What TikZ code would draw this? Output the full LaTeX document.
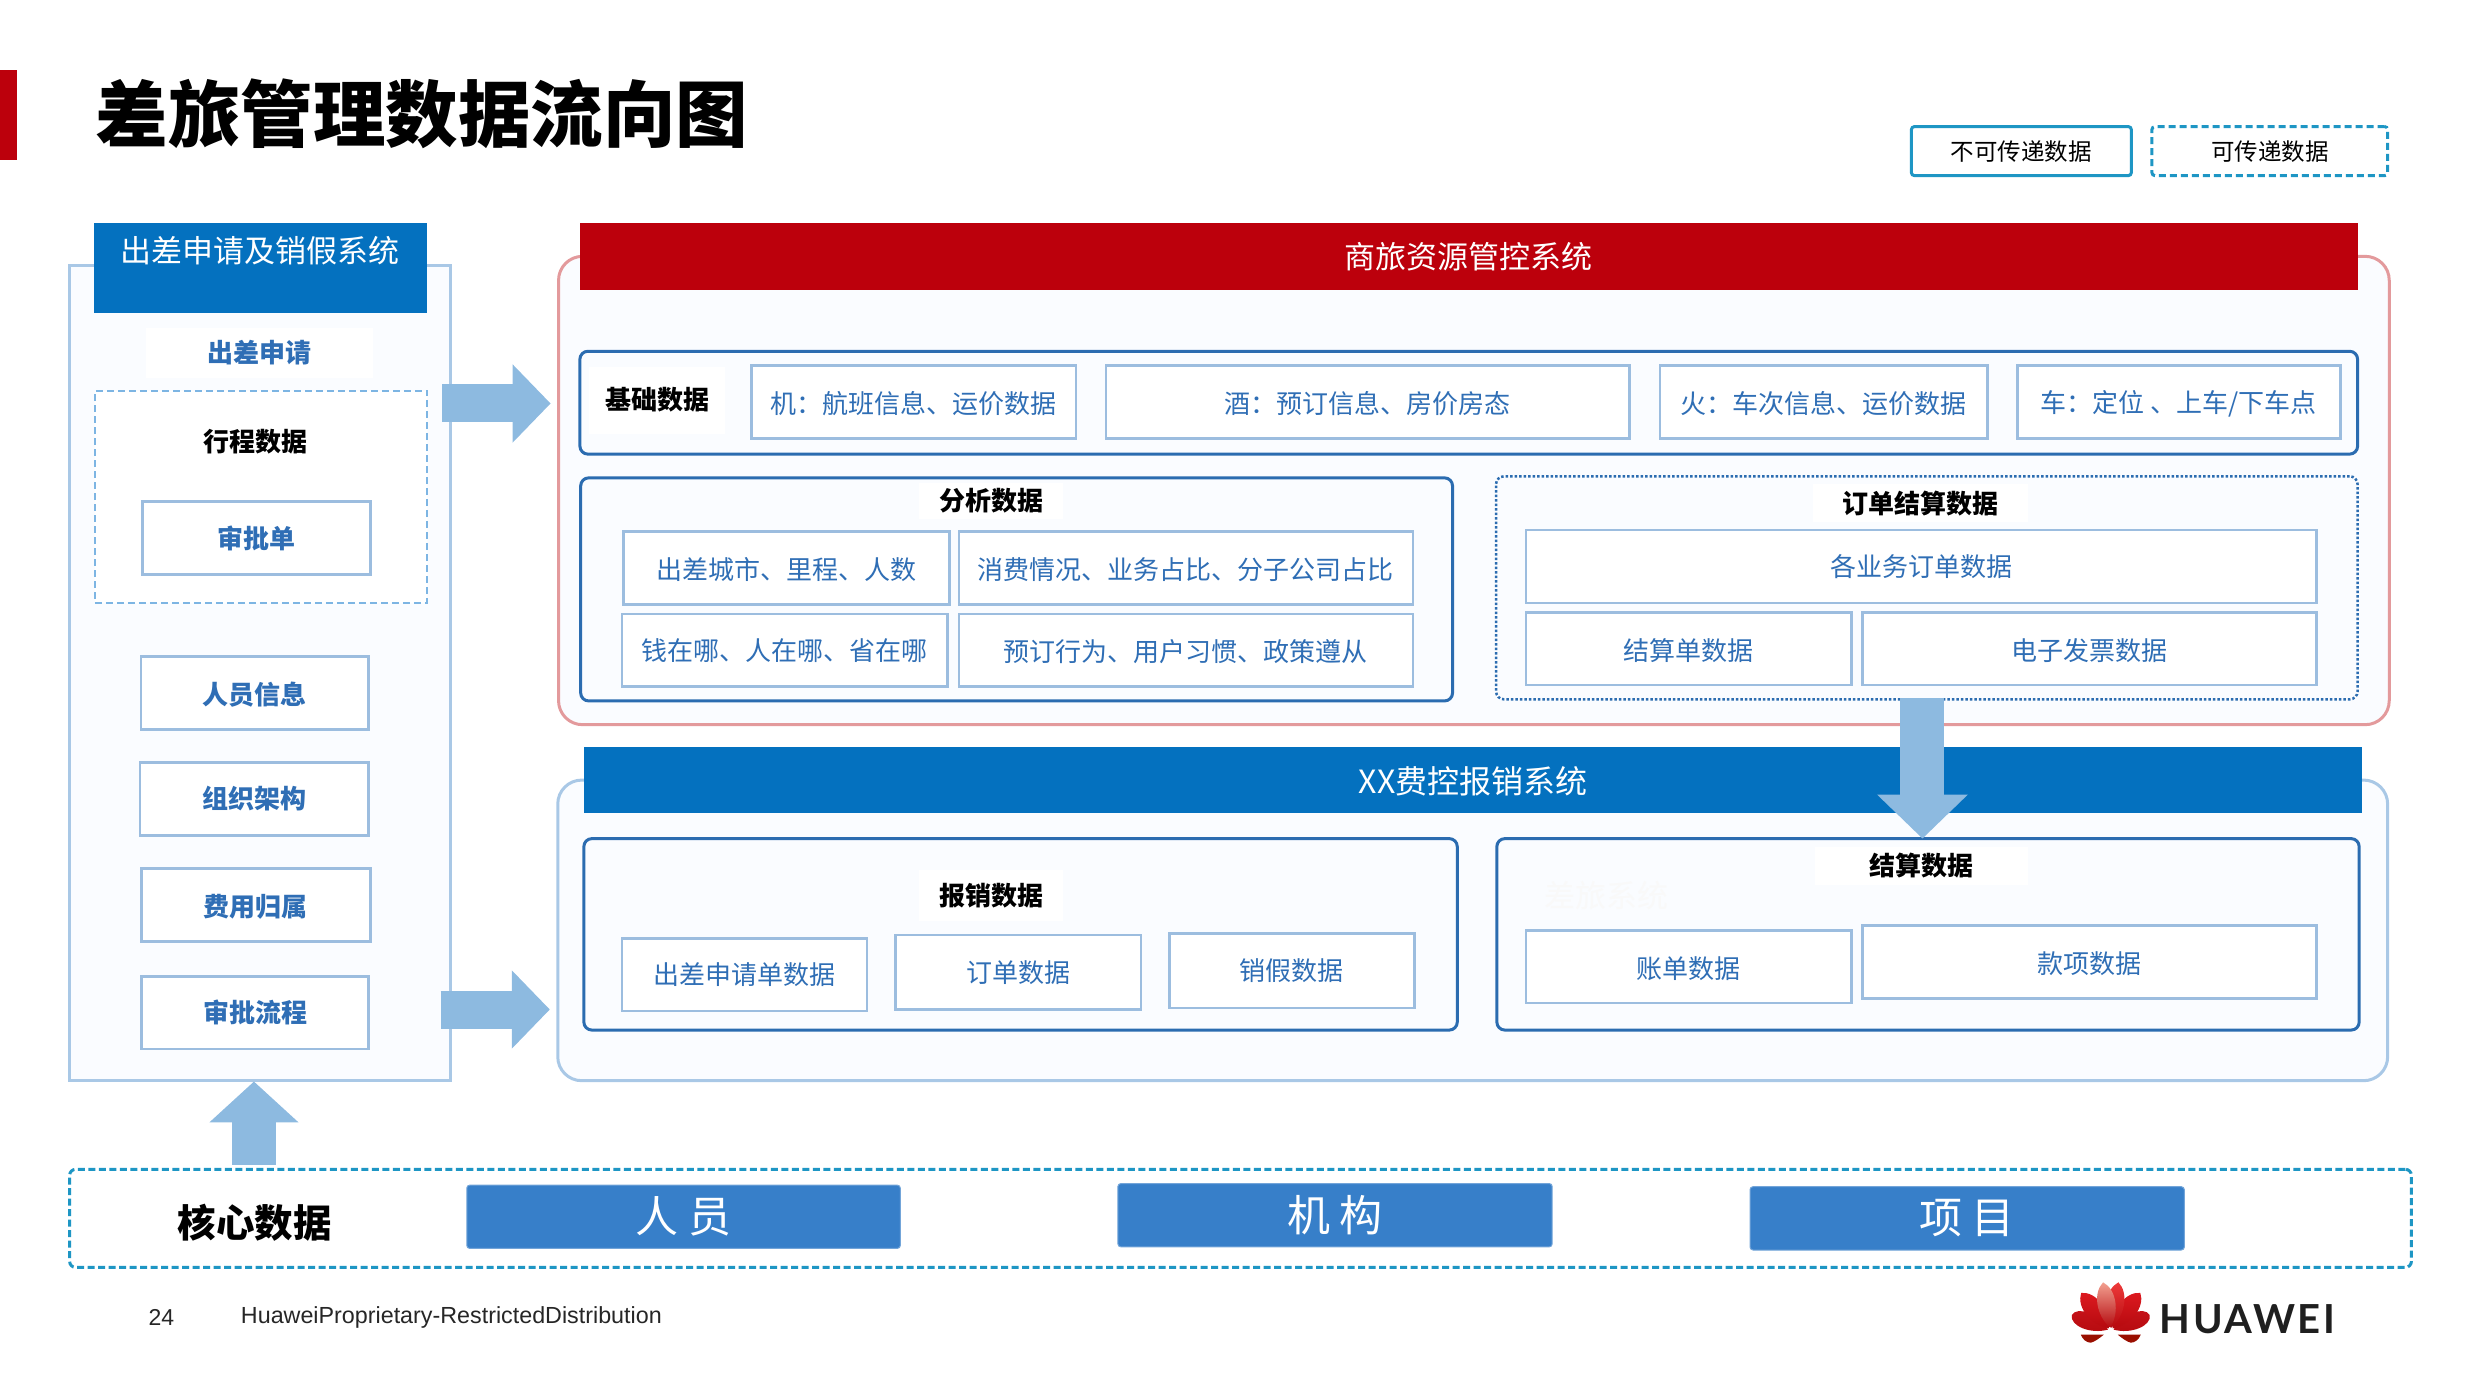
\documentclass[tikz,border=0pt]{standalone}
\usepackage{fontspec}
\usetikzlibrary{arrows.meta}
\setmainfont{Noto Sans CJK SC}
\newfontfamily\footfont{Liberation Sans}
\newfontfamily\logofont[LetterSpace=6.5]{Lato}
\definecolor{panelfill}{HTML}{FAFCFF}
\definecolor{softblue}{HTML}{A9C8E6}
\definecolor{softred}{HTML}{E39A9C}
\definecolor{hdblue}{HTML}{0471BF}
\definecolor{hdred}{HTML}{BC000C}
\definecolor{midblue}{HTML}{2B6CB0}
\definecolor{txtblue}{HTML}{2F6EB5}
\definecolor{cellline}{HTML}{9CBDDF}
\definecolor{arrowblue}{HTML}{8DBAE0}
\definecolor{dashcyan}{HTML}{1E96C4}
\definecolor{dashlight}{HTML}{7DB5E3}
\definecolor{coreblue}{HTML}{377FC9}
\definecolor{pa}{HTML}{C8141A}
\definecolor{pb}{HTML}{DE1A20}
\definecolor{pc}{HTML}{EE3A3A}
\definecolor{pd}{HTML}{F2A090}
\definecolor{pbot}{HTML}{B50A0F}
\definecolor{pdark}{HTML}{9A0F00}
\newcommand{\fs}[1]{\fontsize{#1pt}{#1pt}\selectfont}
\newcommand{\dn}[1]{\raisebox{-1.6pt}[\height][\depth]{#1}}
\newlength{\uu}\setlength{\uu}{1.58227pt}
% name, x0, y0, x1, y1, style, text
\newcommand{\bx}[7]{%
  \pgfmathsetmacro{\bw}{(#4)-(#2)}\pgfmathsetmacro{\bh}{(#5)-(#3)}%
  \node[boxbase,#6,minimum width=\bw\uu,minimum height=\bh\uu] (#1) at ({((#2)+(#4))/2},{((#3)+(#5))/2}) {#7};}
\tikzset{
  x=1.58227pt,y=-1.58227pt,
  boxbase/.style={inner sep=0pt,outer sep=0pt,align=center},
  panelred/.style={draw=softred,line width=3pt,fill=panelfill,rounded corners=24pt},
  panelblue/.style={draw=softblue,line width=3pt,fill=panelfill,rounded corners=24pt},
  panelsq/.style={draw=softblue,line width=3pt,fill=panelfill},
  hdr/.style={fill=hdblue,text=white,font=\fs{31}},
  hdrr/.style={fill=hdred,text=white,font=\fs{31}},
  group/.style={draw=midblue,line width=3pt,fill=panelfill,rounded corners=8pt},
  groupdot/.style={draw=midblue,line width=2.5pt,fill=panelfill,rounded corners=8pt,dash pattern=on 2.5pt off 2pt},
  cell/.style={draw=cellline,line width=2.6pt,fill=white,text=txtblue,font=\fs{26}},
  cellb/.style={draw=cellline,line width=2.6pt,fill=white,text=txtblue,font=\fs{26}\bfseries},
  backing/.style={fill=white,font=\fs{26}\bfseries,text=black},
  plainb/.style={inner sep=0pt,outer sep=0pt,font=\fs{26}\bfseries},
  legendsolid/.style={draw=dashcyan,line width=3pt,fill=white,rounded corners=3pt,font=\fs{23.5}},
  legenddash/.style={draw=dashcyan,line width=3pt,fill=white,rounded corners=3pt,dash pattern=on 7pt off 4pt,font=\fs{23.5}},
  corebar/.style={fill=coreblue,draw=coreblue!70!white,line width=1pt,rounded corners=3pt,text=white,font=\fs{43}},
  blockh/.style={draw=arrowblue,line width=38pt,-{Triangle[length=38pt,width=76pt]}},
  blockd/.style={draw=arrowblue,line width=44pt,-{Triangle[length=41pt,width=87pt]}},
  blockdn/.style={draw=arrowblue,line width=44pt,-{Triangle[length=44pt,width=88pt]}}
}
\begin{document}
\begin{tikzpicture}
\useasboundingbox (0,0) rectangle (1568,881);
% title
\fill[hdred] (0,44) rectangle (11,101);
\node[plainb,anchor=west,font=\fs{72.5}\bfseries] (title) at (60.5,72) {差旅管理数据流向图};
% legend
\bx{lgsolid}{1208}{80}{1347}{111}{legendsolid}{不可传递数据}
\bx{lgdash}{1360}{80}{1509}{111}{legenddash}{可传递数据}
% left panel
\bx{leftp}{44}{168}{285}{683}{panelsq}{}
\bx{lefth}{59.5}{141}{270}{198}{fill=hdblue}{}
\node[boxbase,text=white,font=\fs{31}] (lefthtxt) at (164.5,158.5) {出差申请及销假系统};
\bx{applyb}{92}{207}{236}{239}{fill=white,text=txtblue,font=\fs{26}\bfseries}{出差申请}
\bx{tripd}{60}{247}{270}{381}{draw=dashlight,line width=2.5pt,fill=white,dash pattern=on 7pt off 4pt}{}
\node[plainb] (triptxt) at (161.5,279) {行程数据};
\bx{appr}{90}{317}{234}{363}{cellb}{审批单}
\bx{pers}{89}{415}{233}{461}{cellb}{\dn{人员信息}}
\bx{org}{88.5}{482}{233}{528}{cellb}{组织架构}
\bx{cost}{89.5}{549}{234}{595}{cellb}{\dn{费用归属}}
\bx{flow}{89.5}{617}{233}{663}{cellb}{审批流程}
% red panel
\bx{redp}{353}{162}{1510}{458}{panelred}{}
\bx{redh}{366.5}{141}{1490}{183}{hdrr}{商旅资源管控系统}
\bx{basegrp}{366.5}{222}{1490}{287}{group}{}
\bx{basebk}{372}{232}{458}{274}{fill=white}{}
\node[plainb] (basetxt) at (415.5,252.5) {基础数据};
\bx{b1}{475}{231}{680}{277}{cell}{\dn{机：航班信息、运价数据}}
\bx{b2}{699}{231}{1030}{277}{cell}{\dn{酒：预订信息、房价房态}}
\bx{b3}{1049}{231}{1256}{277}{cell}{\dn{火：车次信息、运价数据}}
\bx{b4}{1275}{231}{1479}{277}{cell}{\dn{车：定位 、上车/下车点}}
\bx{angrp}{367}{302}{918}{443}{group}{}
\bx{anlab}{581}{305}{672}{328}{backing}{分析数据}
\bx{a1}{394}{336}{600}{382}{cell}{\dn{出差城市、里程、人数}}
\bx{a2}{606}{336}{893}{382}{cell}{\dn{消费情况、业务占比、分子公司占比}}
\bx{a3}{393}{388}{599}{434}{cell}{钱在哪、人在哪、省在哪}
\bx{a4}{606}{388}{893}{434}{cell}{\dn{预订行为、用户习惯、政策遵从}}
\bx{ordgrp}{945.5}{301}{1490}{442}{groupdot}{}
\bx{ordlab}{1145.5}{306}{1282}{330}{backing}{订单结算数据}
\bx{o1}{964.5}{335}{1464}{381}{cell}{各业务订单数据}
\bx{o2}{964.5}{387}{1170}{433}{cell}{\dn{结算单数据}}
\bx{o3}{1177}{387}{1464}{433}{cell}{\dn{电子发票数据}}
% blue panel
\bx{blup}{352.5}{493}{1509}{683}{panelblue}{}
\bx{bluh}{369}{472}{1493}{514}{hdr}{\fs{32}\dn{XX费控报销系统}}
\bx{regrp}{369}{530}{921}{651}{group}{}
\bx{relab}{581}{550}{672}{582}{backing}{报销数据}
\bx{r1}{393}{593}{548}{639}{cell}{出差申请单数据}
\bx{r2}{566}{591}{721}{638}{cell}{订单数据}
\bx{r3}{739}{590}{894}{637}{cell}{销假数据}
\bx{setgrp}{946}{530}{1491}{651}{group}{}
\bx{setlab}{1147}{535}{1282}{559}{backing}{结算数据}
\node[boxbase,text=black!2.5,font=\fs{31}] (ghost) at (1015,566) {差旅系统};
\bx{s1}{964.5}{588}{1170}{634}{cell}{\dn{账单数据}}
\bx{s2}{1177}{585}{1464}{631}{cell}{\dn{款项数据}}
% core
\bx{core}{44}{739}{1524}{801}{draw=dashcyan,line width=3pt,fill=white,rounded corners=6pt,dash pattern=on 7pt off 3.5pt}{}
\node[plainb,font=\fs{38.5}\bfseries] (coretxt) at (161,773) {核心数据};
\bx{c1}{295}{749}{569}{789}{corebar}{人 员}
\bx{c2}{706.5}{748}{981}{788}{corebar}{机 构}
\bx{c3}{1106}{750}{1380.5}{790}{corebar}{项 目}
% block arrows
\coordinate (ar1a) at (279.5,255); \coordinate (ar1b) at (348,255);
\coordinate (ar2a) at (278.5,638); \coordinate (ar2b) at (347.5,638);
\coordinate (ar3a) at (160.5,736); \coordinate (ar3b) at (160.5,683.5);
\coordinate (ar4a) at (1215,441); \coordinate (ar4b) at (1215,530);
\draw[blockh] (ar1a) -- (ar1b);
\draw[blockh] (ar2a) -- (ar2b);
\draw[blockd] (ar3a) -- (ar3b);
\draw[blockdn] (ar4a) -- (ar4b);
% footer
\node[boxbase,font=\footfont\fs{23},text=black!85] (pg) at (102,832.5) {24};
\node[boxbase,anchor=west,font=\footfont\fs{23.3},text=black!85] (foot) at (152.3,832.5) {HuaweiProprietary-RestrictedDistribution};
% logo
\begin{scope}[shift={(1334,841)},x=1pt,y=1pt]
  \foreach \a/\L/\w/\c in {68/42/11/pa,-68/42/11/pa,38/48/12.5/pb,-38/48/12.5/pb,-9/49/12/pc,9/49/12/pd}{
    \shade[rotate=\a,top color=\c,bottom color=pbot] (0,3) .. controls (-\w,17) and (-\w,40) .. (0,\L) .. controls (\w,40) and (\w,17) .. (0,3) -- cycle;
  }
  \fill[pdark] (-7,-4) -- (-30,-4) .. controls (-28,-9) and (-24,-12) .. (-20,-12) .. controls (-16,-11) and (-12,-8) .. (-7,-4) -- cycle;
  \fill[pdark] (7,-4) -- (30,-4) .. controls (28,-9) and (24,-12) .. (20,-12) .. controls (16,-11) and (12,-8) .. (7,-4) -- cycle;
\end{scope}
\node[boxbase,anchor=west,font=\logofont\bfseries\fs{40},text=black!88] (hw) at (1365,834) {HUAWEI};
\end{tikzpicture}
\end{document}
